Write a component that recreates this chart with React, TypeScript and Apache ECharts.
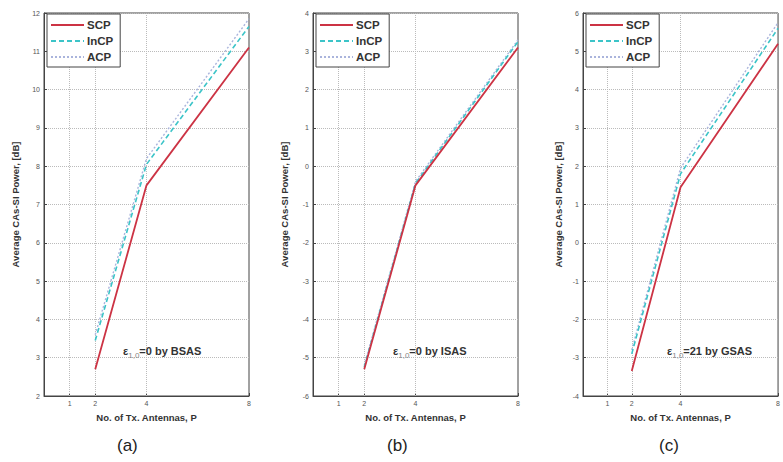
import React, { useEffect, useRef } from "react";
import * as echarts from "echarts";

const antennas = [2, 4, 8];
const xTickValues = [1, 2, 4, 8];
const xGridValues = [1, 2, 4];
const seriesNames = ["SCP", "InCP", "ACP"];

// Panel (a): BSAS
const scpA = [2.7, 7.5, 11.1];
const incpA = [3.45, 8.05, 11.65];
const acpA = [3.6, 8.2, 11.85];
// Panel (b): ISAS
const scpB = [-5.3, -0.5, 3.1];
const incpB = [-5.25, -0.45, 3.25];
const acpB = [-5.2, -0.4, 3.3];
// Panel (c): GSAS
const scpC = [-3.35, 1.45, 5.2];
const incpC = [-2.9, 1.8, 5.6];
const acpC = [-2.8, 1.95, 5.75];

const yRanges = [
  [2, 12],
  [-6, 4],
  [-4, 6],
];
const annotations = [
  { value: "0", method: "BSAS" },
  { value: "0", method: "ISAS" },
  { value: "21", method: "GSAS" },
];
const captions = ["(a)", "(b)", "(c)"];

const FONT = "Liberation Sans, Arial, sans-serif";

export default function App() {
  const ref = useRef<HTMLDivElement>(null);
  useEffect(() => {
    if (!ref.current) return;
    const chart = echarts.init(ref.current, null, { renderer: "svg" });
    const panels = [
      { scp: scpA, incp: incpA, acp: acpA },
      { scp: scpB, incp: incpB, acp: acpB },
      { scp: scpC, incp: incpC, acp: acpC },
    ];
    const gridLeft = [44, 313, 583];
    const gridTop = 13;
    const gridW = 205;
    const gridH = 383;
    const yNameGap = [24, 24, 20];
    const captionX = [130, 400, 672];
    const annotX = [123, 393, 667];

    const grids = gridLeft.map((l) => ({
      left: l,
      top: gridTop,
      width: gridW,
      height: gridH,
      show: true,
      borderColor: "#444",
      borderWidth: 1,
      backgroundColor: "#fff",
    }));

    const xAxes = gridLeft.map((_, i) => ({
      type: "value",
      gridIndex: i,
      min: 0,
      max: 8,
      interval: 1,
      name: "No. of Tx. Antennas, P",
      nameLocation: "middle",
      nameGap: 16,
      nameTextStyle: { fontFamily: FONT, fontSize: 9.5, fontWeight: "bold", color: "#333" },
      axisLine: { onZero: false, lineStyle: { color: "#444" } },
      axisTick: { inside: true, length: 3, customValues: xTickValues, lineStyle: { color: "#444" } },
      axisLabel: { customValues: xTickValues, fontFamily: FONT, fontSize: 7, color: "#555", margin: 4 },
      splitLine: { show: false },
    }));

    const yAxes = yRanges.map((r, i) => ({
      type: "value",
      gridIndex: i,
      min: r[0],
      max: r[1],
      interval: 1,
      name: "Average CAs-SI Power, [dB]",
      nameLocation: "middle",
      nameGap: yNameGap[i],
      nameTextStyle: { fontFamily: FONT, fontSize: 9.5, fontWeight: "bold", color: "#333" },
      axisLine: { onZero: false, lineStyle: { color: "#444" } },
      axisTick: { inside: true, length: 3, lineStyle: { color: "#444" } },
      axisLabel: { fontFamily: FONT, fontSize: 7, color: "#555", margin: 4 },
      splitLine: { show: true, lineStyle: { type: "dotted", color: "#bbb", width: 1 } },
    }));

    const series: any[] = [];
    panels.forEach((p, i) => {
      series.push({
        name: "SCP",
        type: "line",
        xAxisIndex: i,
        yAxisIndex: i,
        symbol: "none",
        data: antennas.map((x, k) => [x, p.scp[k]]),
        lineStyle: { color: "#cc3344", width: 1.8 },
        itemStyle: { color: "#cc3344" },
        z: 4,
        markLine: {
          silent: true,
          symbol: "none",
          label: { show: false },
          lineStyle: { type: "dotted", color: "#bbb", width: 1 },
          data: xGridValues.map((v) => ({ xAxis: v })),
          z: 1,
        },
      });
      series.push({
        name: "InCP",
        type: "line",
        xAxisIndex: i,
        yAxisIndex: i,
        symbol: "none",
        data: antennas.map((x, k) => [x, p.incp[k]]),
        lineStyle: { color: "#3cc4c8", width: 1.6, type: [5, 3] },
        itemStyle: { color: "#3cc4c8" },
        z: 3,
      });
      series.push({
        name: "ACP",
        type: "line",
        xAxisIndex: i,
        yAxisIndex: i,
        symbol: "none",
        data: antennas.map((x, k) => [x, p.acp[k]]),
        lineStyle: { color: "#aab4dc", width: 1.4, type: [2, 2] },
        itemStyle: { color: "#aab4dc" },
        z: 2,
      });
    });

    const legends = gridLeft.map((l) => ({
      left: l + 3,
      top: gridTop + 1,
      orient: "vertical",
      data: seriesNames,
      itemGap: 4,
      itemWidth: 33,
      itemHeight: 14,
      borderColor: "#444",
      borderWidth: 1,
      borderRadius: 0,
      backgroundColor: "#fff",
      padding: [5, 7, 4, 3],
      selectedMode: false,
      itemStyle: { opacity: 0 },
      textStyle: { fontFamily: FONT, fontSize: 11.5, fontWeight: "bold", color: "#333", padding: [0, 0, 0, -2] },
    }));

    const graphics: any[] = [];
    annotations.forEach((a, i) => {
      graphics.push({
        type: "text",
        left: annotX[i],
        top: 345,
        style: {
          text: `{e|ε}{s|1,0}{t|=${a.value} by ${a.method}}`,
          rich: {
            e: { fontFamily: FONT, fontSize: 11, fontWeight: "bold", fill: "#333", verticalAlign: "middle", lineHeight: 18 },
            s: { fontFamily: FONT, fontSize: 8, fill: "#888", verticalAlign: "bottom", lineHeight: 18, padding: [6, 0, 0, 0] },
            t: { fontFamily: FONT, fontSize: 11, fontWeight: "bold", fill: "#333", verticalAlign: "middle", lineHeight: 18 },
          },
        },
        z: 10,
      });
      graphics.push({
        type: "text",
        left: captionX[i] - 13,
        top: 437,
        style: {
          text: captions[i],
          fontFamily: FONT,
          fontSize: 17,
          fill: "#222",
        },
      });
    });

    chart.setOption({
      animation: false,
      backgroundColor: "#fff",
      grid: grids,
      xAxis: xAxes,
      yAxis: yAxes,
      legend: legends,
      series,
      graphic: graphics,
    });
    return () => chart.dispose();
  }, []);
  return (
    <div
      ref={ref}
      style={{ position: "fixed", left: 0, top: 0, width: 783, height: 462 }}
    />
  );
}
